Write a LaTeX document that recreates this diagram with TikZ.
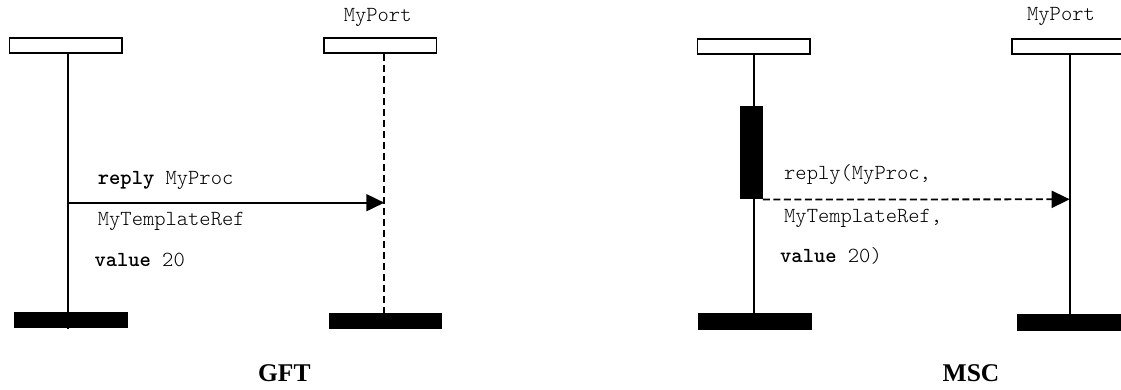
\documentclass[tikz,border=0pt]{standalone}
\usepackage{fontspec}
\setmainfont{Liberation Serif}
\setmonofont{Latin Modern Mono Light}
\usetikzlibrary{arrows.meta}
\begin{document}
\begin{tikzpicture}[x=1pt,y=-1pt,
  inst/.style={draw, line width=1.8pt, fill=white, inner sep=0pt, minimum height=15pt, minimum width=112.5pt},
  endbar/.style={fill=black, inner sep=0pt, minimum height=16.6pt, minimum width=113.5pt},
  actbar/.style={fill=black, inner sep=0pt, minimum width=23pt, minimum height=93.3pt},
  life/.style={line width=1.8pt},
  msg/.style={anchor=west, font=\ttfamily\fontsize{21.5}{24}\selectfont, inner sep=0pt},
  portlbl/.style={font=\ttfamily\fontsize{21.5}{24}\selectfont, inner sep=0pt},
  ttl/.style={font=\bfseries\fontsize{25.5}{28}\selectfont, inner sep=0pt},
  head/.style={-{Triangle[length=18pt,width=17pt]}}
]
\clip (0,0) rectangle (1121,390);
% ---------- GFT ----------
\node[inst] (gA) at (65.8,45.5) {};
\node[inst] (gB) at (380.2,45.5) {};
\node[endbar] (gAend) at (71,320) {};
\node[endbar] (gBend) at (385.7,321) {};
\coordinate (gAx) at (67.7,0);
\coordinate (gBx) at (384.3,0);
\coordinate (gy) at (0,202.7);
\draw[life] (gA.south -| gAx) -- (gAend.south -| gAx);
\draw[life, dash pattern=on 7pt off 4pt] (gB.south -| gBx) -- (gBend.north -| gBx);
\draw[life, head] (gAx |- gy) -- (gBx |- gy);
\node[portlbl] (gport) at (377.7,17) {MyPort};
\node[msg] (g1) at (97.7,180) {\textbf{reply} MyProc};
\node[msg] (g2) at (97.7,221.7) {MyTemplateRef};
\node[msg] (g3) at (94.3,260) {\textbf{value} 20};
\node[ttl] (gft) at (284.3,373) {GFT};
% ---------- MSC ----------
\node[inst] (mA) at (753.8,46.7) {};
\node[inst] (mB) at (1068.5,46.7) {};
\node[endbar] (mAend) at (755.2,321.7) {};
\node[endbar] (mBend) at (1074,322.7) {};
\coordinate (mAx) at (753.7,0);
\coordinate (mBx) at (1069.7,0);
\coordinate (my) at (0,199.3);
\draw[life] (mA.south -| mAx) -- (mAend.south -| mAx);
\draw[life] (mB.south -| mBx) -- (mBend.north -| mBx);
\node[actbar] (mact) at (751.2,152.7) {};
\draw[life, head, dash pattern=on 7pt off 3.5pt] (mact.south east) -- (mBx |- my);
\node[portlbl] (mport) at (1061,16) {MyPort};
\node[msg] (m1) at (784,175) {reply(MyProc,};
\node[msg] (m2) at (784,218.3) {MyTemplateRef,};
\node[msg] (m3) at (780,256) {\textbf{value} 20)};
\node[ttl] (msc) at (971,373) {MSC};
\end{tikzpicture}
\end{document}
